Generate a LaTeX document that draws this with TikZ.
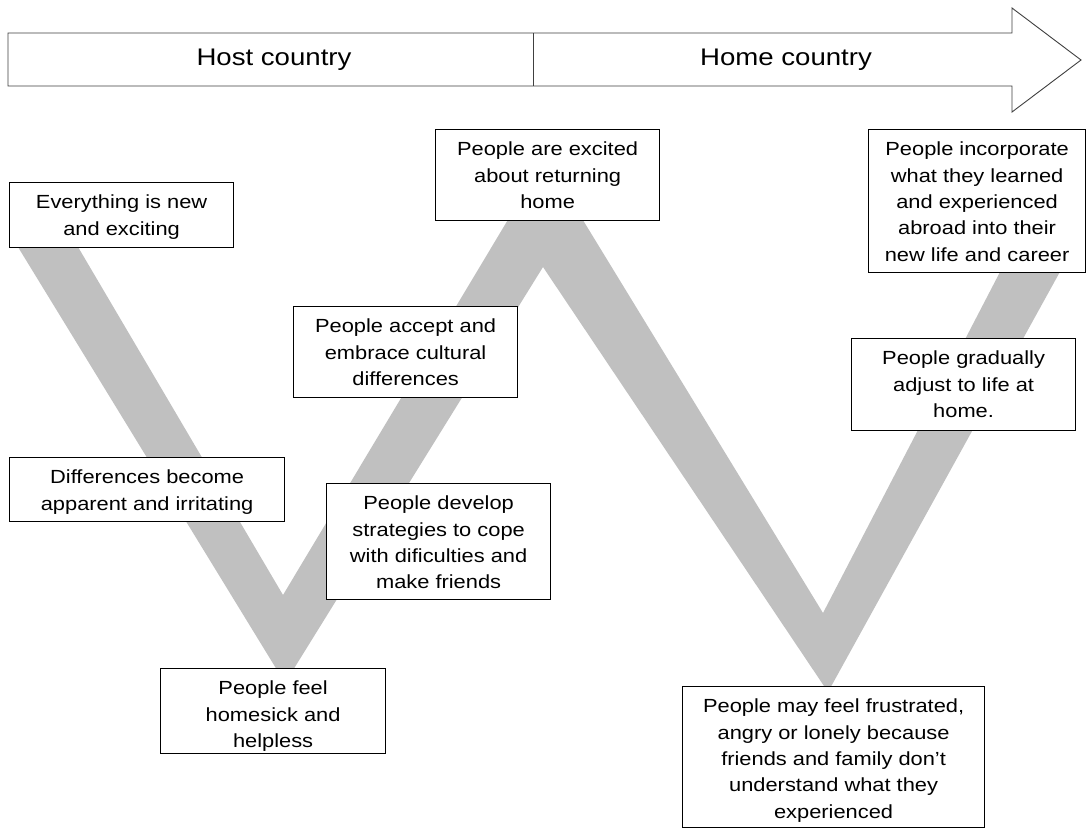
\documentclass[tikz,border=0pt]{standalone}
\usepackage{fontspec}
\setmainfont{Liberation Sans}[FakeStretch=1.15]
\definecolor{bandgray}{HTML}{C0C0C0}
\definecolor{edgegray}{HTML}{404040}
% fixed-size text block, first line placed by a strut
\newcommand\stagetext[3]{\parbox[c][#2pt][t]{#1pt}{\centering\rule{0pt}{26.3pt}#3}}
\tikzset{
  stagebox/.style={draw=black, line width=1.2pt, fill=white, inner sep=0pt,
    anchor=north west, font=\fontsize{19}{26.3}\selectfont},
  banner/.style={draw=edgegray, line width=0.9pt, fill=white},
  bannerlabel/.style={inner sep=0pt, font=\fontsize{24}{28}\selectfont},
  band/.style={fill=bandgray, draw=none}
}
\begin{document}
\begin{tikzpicture}[x=1pt,y=-1pt]
\useasboundingbox (0,0) rectangle (1087,830);
\fill[white] (0,0) rectangle (1087,830);

% timeline arrow
\draw[banner] (8,33) -- (1012,33) -- (1012,8) -- (1081,60) -- (1012,112)
  -- (1012,86) -- (8,86) -- cycle;
\coordinate (divtop) at (533,33);
\coordinate (divbot) at (533,86);
\draw[edgegray, line width=0.9pt] (divtop) -- (divbot);
\node[bannerlabel] (host) at (274,60) {Host country};
\node[bannerlabel] (home) at (786,60) {Home country};

% W-shaped adjustment curve
\fill[band] (13.7,240) -- (285,683) -- (543,267) -- (828,692) -- (1077.5,240)
  -- (1016.6,240) -- (823,613) -- (545,158) -- (283,595) -- (73.9,240) -- cycle;

% stage boxes
\node[stagebox] (newexciting) at (9,182)
  {\stagetext{224}{65}{Everything is new\\and exciting}};
\node[stagebox] (irritating) at (9,457)
  {\stagetext{275}{64}{Differences become\\apparent and irritating}};
\node[stagebox] (homesick) at (160,668)
  {\stagetext{225}{85}{People feel\\homesick and\\helpless}};
\node[stagebox] (cope) at (326,483)
  {\stagetext{224}{116}{People develop\\strategies to cope\\with dificulties and\\make friends}};
\node[stagebox] (accept) at (293,306)
  {\stagetext{224}{91}{People accept and\\embrace cultural\\differences}};
\node[stagebox] (returning) at (435,129)
  {\stagetext{224}{91}{People are excited\\about returning\\home}};
\node[stagebox] (frustrated) at (682,686)
  {\stagetext{302}{141}{People may feel frustrated,\\angry or lonely because\\friends and family don’t\\understand what they\\experienced}};
\node[stagebox] (adjust) at (851,338)
  {\stagetext{224}{92}{People gradually\\adjust to life at\\home.}};
\node[stagebox] (incorporate) at (868,129)
  {\stagetext{217}{143}{People incorporate\\what they learned\\and experienced\\abroad into their\\new life and career}};
\end{tikzpicture}
\end{document}
